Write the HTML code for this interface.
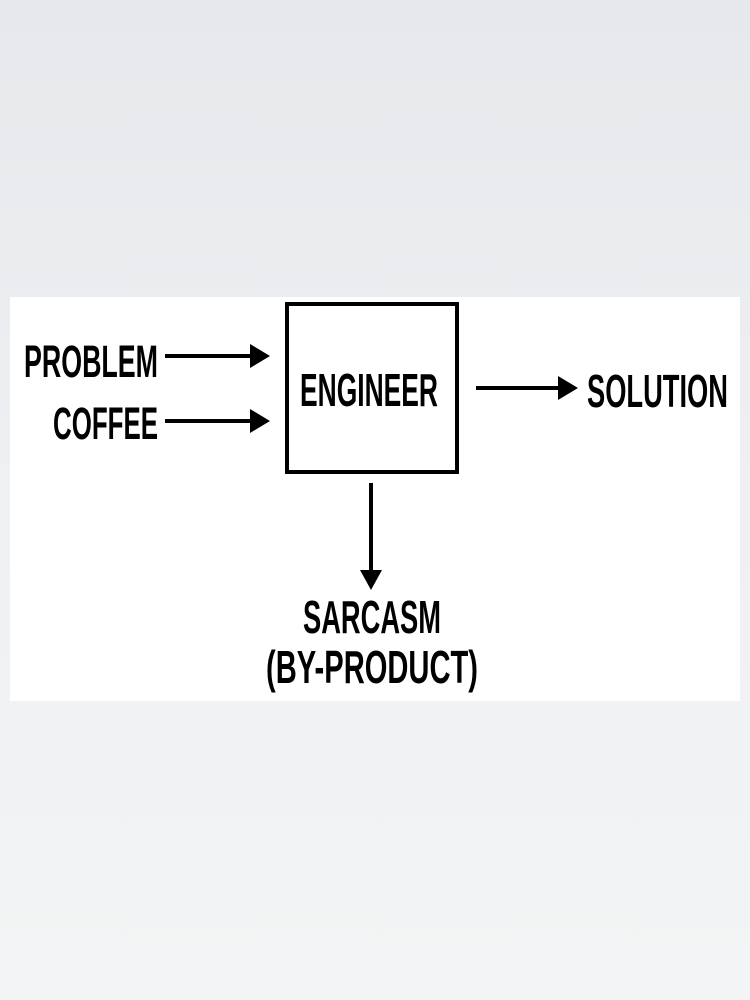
<!DOCTYPE html>
<html><head><meta charset="utf-8"><style>
html,body{margin:0;padding:0}
body{width:750px;height:1000px;background:linear-gradient(180deg,#e6e8eb 0%,#eef0f2 50%,#f3f4f5 100%);position:relative;overflow:hidden}
svg{position:absolute;left:0;top:0}
text{font-family:"Liberation Sans",sans-serif;font-weight:bold;fill:#000}
</style></head><body>
<svg width="750" height="1000" viewBox="0 0 750 1000">
<rect x="10" y="297" width="730" height="404" fill="#fff"/>
<rect x="287" y="304" width="170" height="168" fill="none" stroke="#000" stroke-width="4"/>
<g stroke="#000" stroke-width="4">
<line x1="165" y1="356" x2="256" y2="356"/>
<line x1="165" y1="421" x2="256" y2="421"/>
<line x1="476" y1="388" x2="564" y2="388"/>
<line x1="371" y1="483" x2="371" y2="575"/>
</g>
<g fill="#000">
<polygon points="250,344 270,356 250,368"/>
<polygon points="250,409 270,421 250,433"/>
<polygon points="558,376 578,388 558,400"/>
<polygon points="360,570 382,570 371,590"/>
</g>
<text x="24" y="377" font-size="45" textLength="134" lengthAdjust="spacingAndGlyphs">PROBLEM</text>
<text x="53" y="439" font-size="45" textLength="105" lengthAdjust="spacingAndGlyphs">COFFEE</text>
<text x="300" y="406" font-size="46" textLength="138" lengthAdjust="spacingAndGlyphs">ENGINEER</text>
<text x="587" y="407" font-size="46" textLength="141" lengthAdjust="spacingAndGlyphs">SOLUTION</text>
<text x="303" y="633" font-size="46" textLength="138" lengthAdjust="spacingAndGlyphs">SARCASM</text>
<text x="266" y="683" font-size="46" textLength="212" lengthAdjust="spacingAndGlyphs">(BY-PRODUCT)</text>
</svg>
</body></html>
